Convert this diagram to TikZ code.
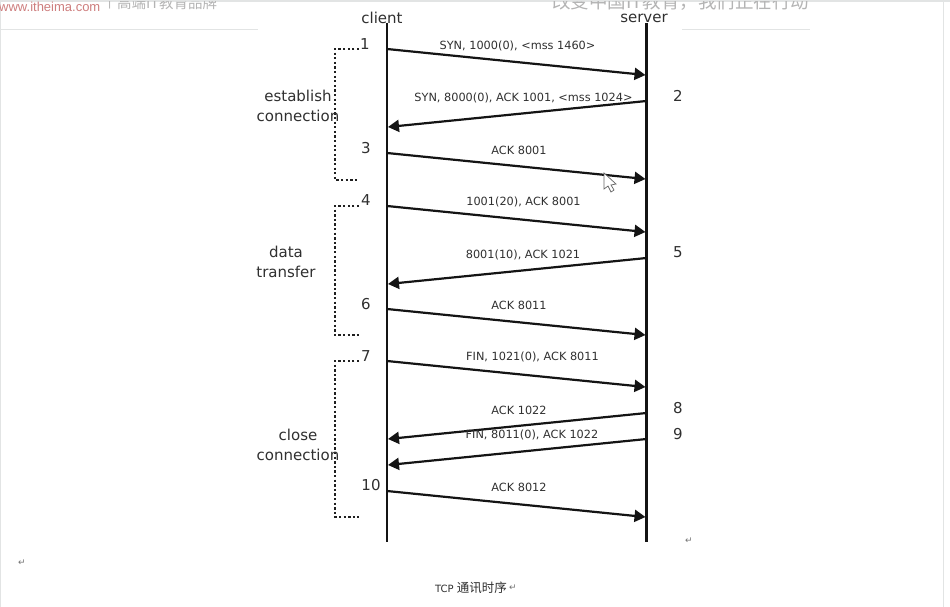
\documentclass[tikz,border=0pt]{standalone}
\usepackage{fontspec}
\setmainfont{DejaVu Sans}
\newfontfamily\cjk{Noto Sans CJK SC}
\newfontfamily\hdr{Liberation Sans}
\usetikzlibrary{arrows.meta}
\definecolor{txt}{HTML}{303030}
\definecolor{hgray}{HTML}{B4B4B4}
\definecolor{pagel}{HTML}{E2E4E4}
\tikzset{
  x=1pt,y=-1pt,
  life/.style={line width=2.2pt,black!92},
  msg/.style={line width=2.2pt,black!92,-{Triangle[length=11pt,width=12pt]},shorten >=0pt},
  brace/.style={line width=2.5pt,black!88,line cap=butt,dash pattern=on 2.3pt off 2.3pt},
  lab/.style={font=\fontsize{11.3}{13}\selectfont,text=txt,inner sep=0pt},
  num/.style={font=\fontsize{15}{17}\selectfont,text=txt,inner sep=0pt},
  side/.style={font=\fontsize{15}{20.5}\selectfont,text=txt,inner sep=0pt,align=center},
  head/.style={font=\fontsize{15}{17}\selectfont,text=txt,inner sep=0pt},
  retmark/.style={font=\fontsize{9}{10}\selectfont,text=black!55,inner sep=0pt},
}
\begin{document}
\begin{tikzpicture}
\useasboundingbox (0,0) rectangle (950,607);
\fill[white] (0,0) rectangle (950,607);
% page furniture
\draw[pagel,line width=1.2pt] (0,1) -- (950,1);
\draw[pagel,line width=1pt] (0.5,0) -- (0.5,607);
\draw[pagel,line width=1pt] (943,0) -- (943,607);
\draw[pagel,line width=1pt] (0,29.5) -- (258,29.5);
\draw[pagel,line width=1pt] (682,29.5) -- (810,29.5);
\begin{scope}
\clip (0,2) rectangle (950,30);
\node[anchor=west,inner sep=0pt,text=red!45!gray!70] (site) at (-1,7) {\hdr\fontsize{13}{15}\selectfont www.itheima.com};
\node[anchor=west,inner sep=0pt,text=hgray] (bar) at (108,3) {\hdr\fontsize{12}{14}\selectfont |};
\node[anchor=west,inner sep=0pt,text=hgray] (brand) at (117,3) {\cjk\fontsize{14.5}{16}\selectfont 高端IT教育品牌};
\node[anchor=west,inner sep=0pt,text=hgray] (slogan) at (552,2) {\cjk\fontsize{18.5}{20}\selectfont 改变中国IT教育，我们正在行动};
\end{scope}
% lifelines
\coordinate (c0) at (387,23);
\coordinate (c1) at (387,542);
\coordinate (s0) at (646.5,23);
\coordinate (s1) at (646.5,542);
\draw[life] (c0) -- (c1);
\draw[life] (s0) -- (s1);
\node[head] (client) at (382,18) {client};
\node[head] (server) at (644,18) {server};
% message end points
\foreach \n/\y in {a/49,c/153,d/206,f/309,g/361,j/491}{
  \pgfmathsetmacro\yy{\y+26}
  \coordinate (\n L) at (387,\y);
  \coordinate (\n R) at (645.5,\yy);
}
\foreach \n/\y in {b/101,e/258,h/413,i/439}{
  \pgfmathsetmacro\yy{\y+26}
  \coordinate (\n R) at (646.5,\y);
  \coordinate (\n L) at (388,\yy);
}
\draw[msg] (aL) -- (aR);
\draw[msg] (bR) -- (bL);
\draw[msg] (cL) -- (cR);
\draw[msg] (dL) -- (dR);
\draw[msg] (eR) -- (eL);
\draw[msg] (fL) -- (fR);
\draw[msg] (gL) -- (gR);
\draw[msg] (hR) -- (hL);
\draw[msg] (iR) -- (iL);
\draw[msg] (jL) -- (jR);
% labels
\node[lab] (la) at (517.5,46) {SYN, 1000(0), <mss 1460>};
\node[lab] (lb) at (523.5,98) {SYN, 8000(0), ACK 1001, <mss 1024>};
\node[lab] (lc) at (519,150) {ACK 8001};
\node[lab] (ld) at (523.5,202) {1001(20), ACK 8001};
\node[lab] (le) at (523,255) {8001(10), ACK 1021};
\node[lab] (lf) at (519,305) {ACK 8011};
\node[lab] (lg) at (532.5,357) {FIN, 1021(0), ACK 8011};
\node[lab] (lh) at (519,410) {ACK 1022};
\node[lab] (li) at (532,435) {FIN, 8011(0), ACK 1022};
\node[lab] (lj) at (519,487) {ACK 8012};
% numbers
\node[num] (n1) at (365,44) {1};
\node[num] (n2) at (678,96) {2};
\node[num] (n3) at (366,148) {3};
\node[num] (n4) at (366,200) {4};
\node[num] (n5) at (678,252) {5};
\node[num] (n6) at (366,304) {6};
\node[num] (n7) at (366,356) {7};
\node[num] (n8) at (678,408) {8};
\node[num] (n9) at (678,434) {9};
\node[num] (n10) at (371,485) {10};
% brackets
\coordinate (b1a) at (359,49); \coordinate (b1b) at (335,49);
\coordinate (b1c) at (335,180); \coordinate (b1d) at (359,180);
\coordinate (b2a) at (359,206); \coordinate (b2b) at (335,206);
\coordinate (b2c) at (335,335); \coordinate (b2d) at (359,335);
\coordinate (b3a) at (359,361); \coordinate (b3b) at (335,361);
\coordinate (b3c) at (335,517); \coordinate (b3d) at (359,517);
\draw[brace] (b1a) -- (b1b) -- (b1c) -- (b1d);
\draw[brace] (b2a) -- (b2b) -- (b2c) -- (b2d);
\draw[brace] (b3a) -- (b3b) -- (b3c) -- (b3d);
\node[side] (s1t) at (298,106) {establish\\connection};
\node[side] (s2t) at (286,262) {data\\transfer};
\node[side] (s3t) at (298,445) {close\\connection};
% cursor
\draw[black!60,fill=white,line width=.7pt] (604,173) -- (604,189) -- (608,186) -- (611,192) -- (614,190) -- (611,185) -- (616,184) -- cycle;
% caption and paragraph marks
\node[inner sep=0pt,text=txt] (cap) at (471,588) {\fontsize{10}{12}\selectfont TCP {\cjk\fontsize{12.5}{14}\selectfont 通讯时序}};
\node[retmark] (m1) at (22,563) {↵};
\node[retmark] (m2) at (689,541) {↵};
\node[retmark] (m3) at (513,588) {↵};
\end{tikzpicture}
\end{document}
